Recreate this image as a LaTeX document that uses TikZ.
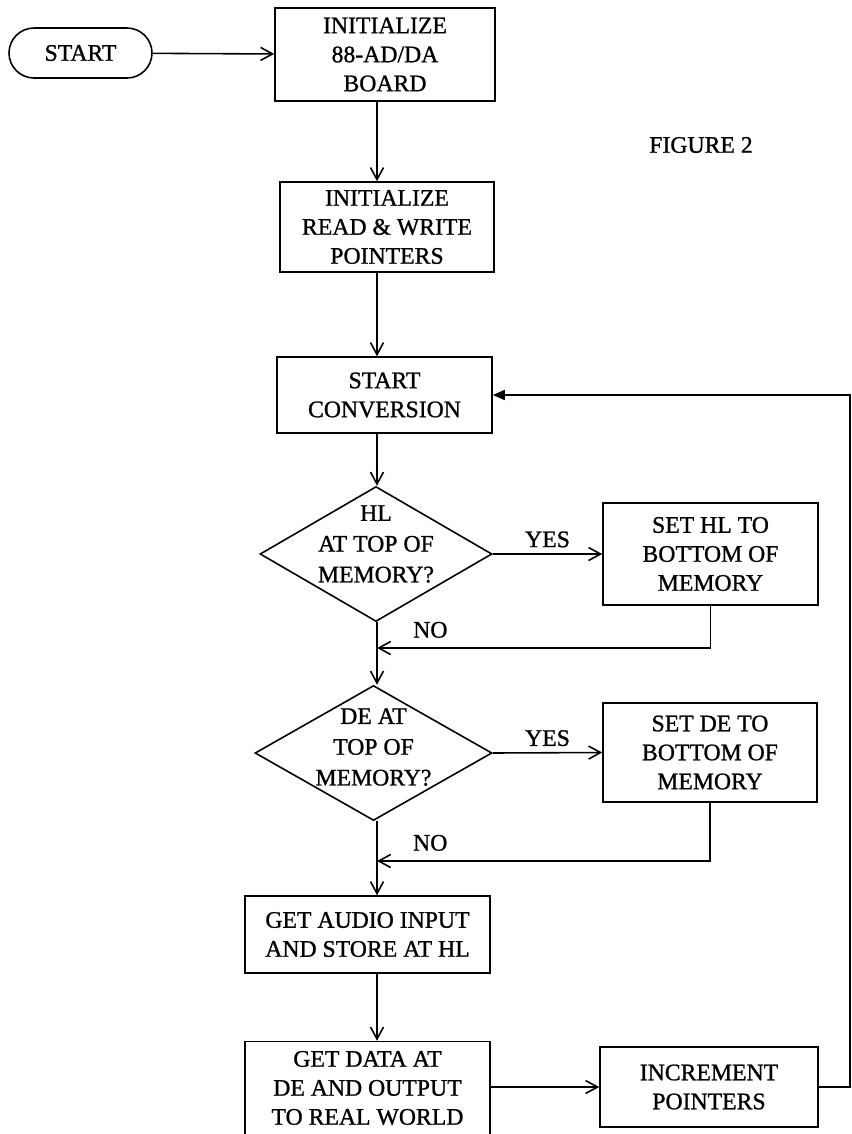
\documentclass[tikz,border=0pt]{standalone}
\usepackage{fontspec}
\setmainfont{Liberation Serif}[FakeBold=1]
\newfontfamily\inkfont{Liberation Serif}[FakeBold=1]
\usepackage{tikz}
\usetikzlibrary{arrows.meta,positioning,shapes.geometric}

\begin{document}
\begin{tikzpicture}[
    box/.style={draw, line width=0.9pt, align=center, inner sep=2pt,
      font=\inkfont\fontsize{13.5}{16.5}\selectfont},
    dia/.style={draw, line width=0.9pt, diamond, inner sep=0pt},
    diatext/.style={align=center, font=\inkfont\fontsize{13.5}{17.5}\selectfont},
    lbl/.style={font=\inkfont\fontsize{13.5}{16}\selectfont},
    link/.style={-{Straight Barb[length=2.4mm, width=2.6mm]}, line width=0.9pt},
    backlink/.style={-{Triangle[length=2.4mm, width=2mm]}, line width=0.9pt}]
\useasboundingbox (0,0) rectangle (17.04,-22.68);
\node[box, rounded corners=0.5cm, minimum width=2.86cm, minimum height=1cm]
  (start) at (1.61,-1.06) {START};
\node[box, minimum width=4.4cm, minimum height=1.86cm] (brd) at (7.7,-1.09)
  {INITIALIZE\\88-AD/DA\\BOARD};
\node[box, minimum width=4.28cm, minimum height=1.8cm] (ptr) at (7.74,-4.54)
  {INITIALIZE\\READ \& WRITE\\POINTERS};
\node[box, minimum width=4.3cm, minimum height=1.52cm] (conv) at (7.69,-7.9)
  {START\\CONVERSION};
\node[dia, minimum width=4.64cm, minimum height=2.7cm] (d1) at (7.52,-11.08) {};
\node[diatext] (d1t) at ([yshift=0.2cm]d1) {HL\\AT TOP OF\\MEMORY?};
\node[box, minimum width=4.3cm, minimum height=2.04cm] (sethl) at (14.21,-11.08)
  {SET HL TO\\BOTTOM OF\\MEMORY};
\node[dia, minimum width=4.74cm, minimum height=2.7cm] (d2) at (7.47,-15.06) {};
\node[diatext] (d2t) at ([yshift=0.12cm]d2) {DE AT\\TOP OF\\MEMORY?};
\node[box, minimum width=4.28cm, minimum height=1.98cm] (setde) at (14.2,-15.05)
  {SET DE TO\\BOTTOM OF\\MEMORY};
\node[box, minimum width=4.9cm, minimum height=1.54cm] (audio) at (7.35,-18.69)
  {GET AUDIO INPUT\\AND STORE AT HL};
\node[box, minimum width=4.9cm, minimum height=1.86cm] (data) at (7.35,-21.76)
  {GET DATA AT\\DE AND OUTPUT\\TO REAL WORLD};
\node[box, minimum width=4.36cm, minimum height=1.6cm] (incr) at (14.18,-21.74)
  {INCREMENT\\POINTERS};
\node[lbl] (fig) at (14.02,-2.9) {FIGURE 2};
\coordinate (col) at (7.54,0);
\coordinate (j1) at (7.54,-12.96);
\coordinate (j2) at (7.54,-17.22);
\coordinate (rc) at (17.0,-7.9);
\draw[link] (start) -- (brd);
\draw[link] (brd.south -| col) -- (ptr.north -| col);
\draw[link] (ptr.south -| col) -- (conv.north -| col);
\draw[link] (conv.south -| col) -- (d1.north -| col);
\draw[link] (d1.east) -- node[lbl, above]{YES} (sethl.west);
\draw[link] (sethl.south) |- node[lbl, pos=0.92, above=2pt]{NO} (j1);
\draw[link] (d1.south -| col) -- (d2.north -| col);
\draw[link] (d2.east) -- node[lbl, above]{YES} (setde.west);
\draw[link] (setde.south) |- node[lbl, pos=0.92, above=2pt]{NO} (j2);
\draw[link] (d2.south -| col) -- (audio.north -| col);
\draw[link] (audio.south -| col) -- (data.north -| col);
\draw[link] (data.east |- incr) -- (incr.west);
\draw[backlink] (incr.east) -| (rc) -- (conv.east);
\end{tikzpicture}
\end{document}
